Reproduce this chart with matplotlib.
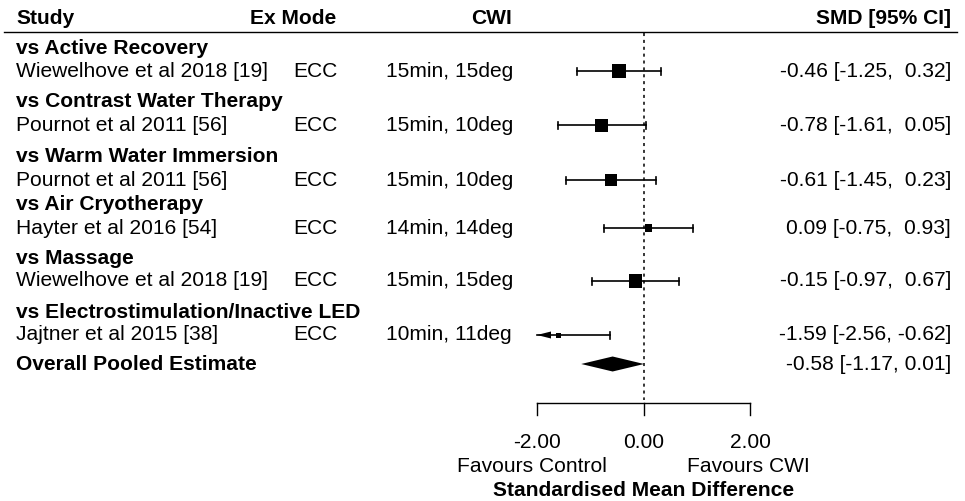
import matplotlib
matplotlib.use("Agg")
import matplotlib.pyplot as plt
from matplotlib.patches import Polygon, Rectangle

plt.rcParams['font.family'] = ['Liberation Sans', 'DejaVu Sans']

# ---- data ----
groups = ["vs Active Recovery", "vs Contrast Water Therapy", "vs Warm Water Immersion",
          "vs Air Cryotherapy", "vs Massage", "vs Electrostimulation/Inactive LED"]
studies = ["Wiewelhove et al 2018 [19]", "Pournot et al 2011 [56]", "Pournot et al 2011 [56]",
           "Hayter et al 2016 [54]", "Wiewelhove et al 2018 [19]", "Jajtner et al 2015 [38]"]
ex_mode = ["ECC", "ECC", "ECC", "ECC", "ECC", "ECC"]
cwi = ["15min, 15deg", "15min, 10deg", "15min, 10deg", "14min, 14deg", "15min, 15deg", "10min, 11deg"]
smd = [-0.46, -0.78, -0.61, 0.09, -0.15, -1.59]
ci_low = [-1.25, -1.61, -1.45, -0.75, -0.97, -2.56]
ci_high = [0.32, 0.05, 0.23, 0.93, 0.67, -0.62]
weights = [14.0, 13.0, 12.5, 7.5, 13.5, 5.0]
pooled = (-0.58, -1.17, 0.01)
ticks = [-2.0, 0.0, 2.0]

W, H = 965, 501
fig = plt.figure(figsize=(W / 100, H / 100), dpi=100)
ax = fig.add_axes([0, 0, 1, 1])
ax.set_axis_off()

# x in SMD units, y in pixel rows
x_left_px, x_right_px = 537, 750
upp = (ticks[-1] - ticks[0]) / (x_right_px - x_left_px)
xmin = ticks[0] - x_left_px * upp
xmax = ticks[-1] + (W - x_right_px) * upp
ax.set_xlim(xmin, xmax)
ax.set_ylim(H, 0)


def px(p):
    return xmin + p * upp


fs = 15.1
group_y = [48, 101, 156, 204, 258, 312]
study_y = [71, 125, 180, 228, 281, 335]
pooled_y = 364

# header
ax.text(px(16), 18, "Study", fontsize=fs, fontweight='bold', va='center', ha='left')
ax.text(px(336), 18, "Ex Mode", fontsize=fs, fontweight='bold', va='center', ha='right')
ax.text(px(492), 18, "CWI", fontsize=fs, fontweight='bold', va='center', ha='center')
ax.text(px(951), 18, "SMD [95% CI]", fontsize=fs, fontweight='bold', va='center', ha='right')
ax.plot([px(4), px(957)], [32, 32], color='black', lw=1)

# zero line
ax.plot([0, 0], [33, 400], color='black', lw=1.1, ls=(0, (2, 2.5)))

cap = 3.5
for i in range(len(studies)):
    yg, ys = group_y[i], study_y[i]
    ax.text(px(16), yg, groups[i], fontsize=fs, fontweight='bold', va='center', ha='left')
    ax.text(px(16), ys, studies[i], fontsize=fs, va='center', ha='left')
    ax.text(px(293), ys, ex_mode[i], fontsize=fs, va='center', ha='left')
    ax.text(px(386), ys, cwi[i], fontsize=fs, va='center', ha='left')
    ax.text(px(951), ys, f"{smd[i]:.2f} [{ci_low[i]:.2f}, {ci_high[i]:5.2f}]".replace("[ ", "["),
            fontsize=fs, va='center', ha='right')
    lo, hi = ci_low[i], ci_high[i]
    clipped = lo < ticks[0]
    lo_draw = max(lo, ticks[0])
    ax.plot([lo_draw, hi], [ys, ys], color='black', lw=1.2)
    ax.plot([hi, hi], [ys - cap, ys + cap], color='black', lw=1.2)
    if clipped:
        ah_len = 14 * upp
        ax.add_patch(Polygon([[lo_draw, ys], [lo_draw + ah_len, ys - 3.5], [lo_draw + ah_len, ys + 3.5]],
                             closed=True, color='black', lw=0))
    else:
        ax.plot([lo, lo], [ys - cap, ys + cap], color='black', lw=1.2)
    s = weights[i]
    ax.add_patch(Rectangle((smd[i] - s / 2 * upp, ys - s / 2), s * upp, s,
                           color='black', lw=0, zorder=3))

# pooled estimate
ax.text(px(16), pooled_y, "Overall Pooled Estimate", fontsize=fs, fontweight='bold',
        va='center', ha='left')
ax.text(px(951), pooled_y, f"{pooled[0]:.2f} [{pooled[1]:.2f}, {pooled[2]:.2f}]",
        fontsize=fs, va='center', ha='right')
est, plo, phi = pooled
ax.add_patch(Polygon([[plo, pooled_y], [est, pooled_y - 7.5], [phi, pooled_y],
                      [est, pooled_y + 7.5]], closed=True, color='black', lw=0, zorder=3))

# x axis
ax_y = 403
ax.plot([ticks[0], ticks[-1]], [ax_y, ax_y], color='black', lw=1)
for t in ticks:
    ax.plot([t, t], [ax_y, ax_y + 12], color='black', lw=1)
    ax.text(t, 442, f"{t:.2f}", fontsize=fs, va='center', ha='center')
ax.text(ticks[0] - 5 * upp, 467, "Favours Control", fontsize=fs, va='center', ha='center')
ax.text(ticks[-1] - 2 * upp, 467, "Favours CWI", fontsize=fs, va='center', ha='center')
ax.text(0, 491, "Standardised Mean Difference", fontsize=fs, fontweight='bold',
        va='center', ha='center')

fig.savefig("out.png", dpi=100)
